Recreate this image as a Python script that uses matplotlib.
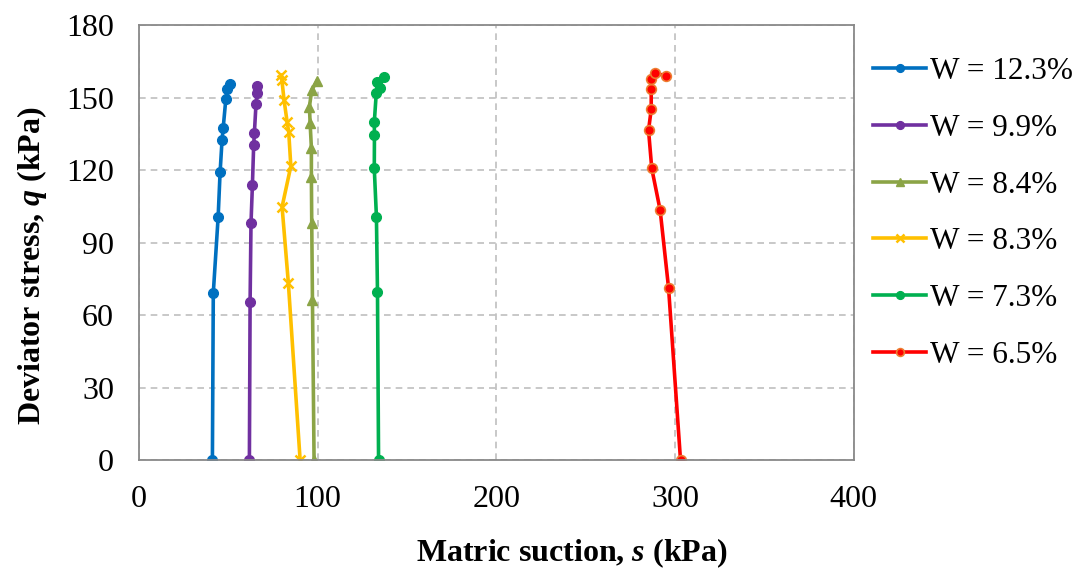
import matplotlib
matplotlib.use("Agg")
from matplotlib import pyplot as plt

plt.rcParams['font.family'] = ['Liberation Serif', 'DejaVu Serif']
plt.rcParams['mathtext.fontset'] = 'custom'
plt.rcParams['mathtext.rm'] = 'Liberation Serif'
plt.rcParams['mathtext.it'] = 'Liberation Serif:italic'
plt.rcParams['mathtext.bf'] = 'Liberation Serif:bold'
plt.rcParams['mathtext.bfit'] = 'Liberation Serif:italic:bold'

# matric suction s (kPa) and deviator stress q (kPa) per water content
s_123 = [41.1, 41.6, 44.3, 45.4, 46.5, 47.1, 48.6, 49.5, 51.0]
q_123 = [0, 69.2, 100.4, 119.0, 132.4, 137.2, 149.2, 153.5, 155.6]

s_99 = [61.8, 62.2, 62.7, 63.5, 64.2, 64.6, 65.5, 66.1, 65.9]
q_99 = [0, 65.5, 97.9, 114.0, 130.3, 135.4, 147.3, 151.7, 154.7]

s_84 = [98.0, 97.1, 96.7, 96.5, 96.5, 95.8, 95.4, 96.7, 99.6]
q_84 = [0, 66.2, 97.9, 117.2, 129.2, 139.3, 146.2, 153.1, 156.9]

s_83 = [90.2, 83.6, 80.1, 85.0, 83.8, 82.9, 81.2, 80.0, 79.6]
q_83 = [0, 73.4, 104.8, 121.6, 135.9, 140.0, 149.0, 157.2, 159.3]

s_73 = [134.1, 133.5, 132.9, 131.7, 131.8, 131.7, 132.8, 135.0, 133.5, 136.9]
q_73 = [0, 69.4, 100.7, 120.7, 134.5, 139.7, 151.7, 154.0, 156.5, 158.6]

s_65 = [303.1, 296.4, 291.7, 287.0, 285.2, 286.7, 286.7, 286.5, 288.9, 295.2]
q_65 = [0, 71.3, 103.4, 120.7, 136.5, 145.1, 153.4, 157.6, 160.0, 159.0]

labels = ["W = 12.3%", "W = 9.9%", "W = 8.4%", "W = 8.3%", "W = 7.3%", "W = 6.5%"]

fig = plt.figure(figsize=(10.84, 5.69), dpi=100)
ax = fig.add_axes([0.1282, 0.1913, 0.6593, 0.7647])

lw = 2.6
ms = 7
ax.plot(s_123, q_123, color='#0070C0', lw=lw, marker='o', ms=ms, label=labels[0])
ax.plot(s_99, q_99, color='#7030A0', lw=lw, marker='o', ms=ms, label=labels[1])
ax.plot(s_84, q_84, color='#8BA446', lw=lw, marker='^', ms=7.5, label=labels[2])
ax.plot(s_83, q_83, color='#FFC000', lw=lw, marker='x', ms=6.5, mew=1.8, label=labels[3])
ax.plot(s_73, q_73, color='#00B050', lw=lw, marker='o', ms=ms, label=labels[4])
ax.plot(s_65, q_65, color='#FF0000', lw=lw, marker='o', ms=ms, mfc='#FF0000',
        mec='#ED7D31', mew=1.2, label=labels[5])

ax.set_xlim(0, 400)
ax.set_ylim(0, 180)
ax.set_xticks([0, 100, 200, 300, 400])
ax.set_yticks([0, 30, 60, 90, 120, 150, 180])
ax.grid(True, color='#BFBFBF', linestyle=(0, (4, 3)), linewidth=1.2)
ax.set_axisbelow(True)
for sp in ax.spines.values():
    sp.set_color('#898989')
    sp.set_linewidth(1.3)
ax.tick_params(length=0, labelsize=23, pad=18)

ax.set_xlabel(r'Matric suction, $\mathbfit{s}$ (kPa)', fontsize=23, fontweight='bold',
              va='center', ha='center')
ax.xaxis.set_label_coords(0.605, -0.213)
ax.set_ylabel(r'Deviator stress, $\mathbfit{q}$ (kPa)', fontsize=23, fontweight='bold',
              va='center', ha='center')
ax.yaxis.set_label_coords(-0.150, 0.446)

fig.legend(loc='upper left', bbox_to_anchor=(0.7935, 0.922), frameon=False, fontsize=22.5,
           handlelength=1.72, handletextpad=0.12, labelspacing=0.89, numpoints=1,
           markerscale=0.8, borderaxespad=0)

fig.savefig('out.png', dpi=100)
